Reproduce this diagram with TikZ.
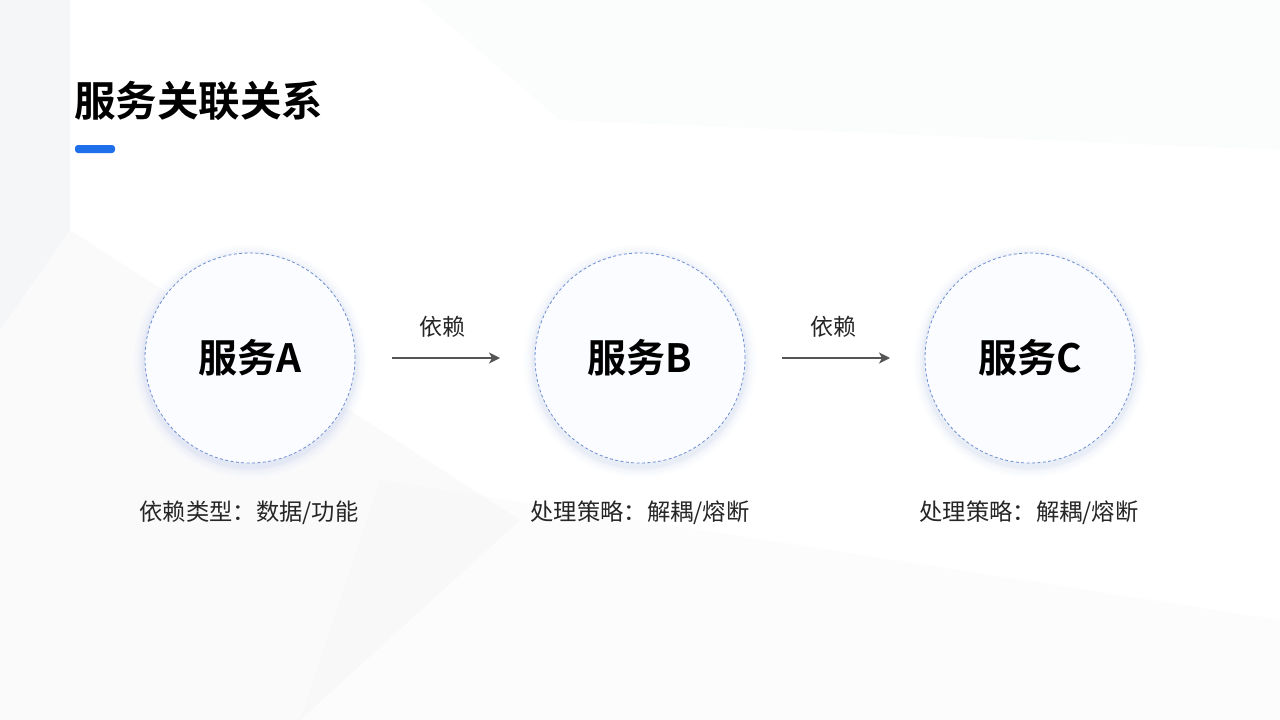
\documentclass[tikz,border=0pt]{standalone}
\usepackage{fontspec}
\newfontfamily\cjk{Noto Sans CJK SC}
\newfontfamily\cjkb{Noto Sans CJK SC Bold}
\usetikzlibrary{arrows.meta}
\definecolor{dashblue}{HTML}{6E8FD2}
\definecolor{barblue}{HTML}{1F6FEB}
\definecolor{arrgray}{HTML}{555555}
\definecolor{bggray}{HTML}{EDEFF3}
\definecolor{circfill}{HTML}{FBFCFF}
\tikzset{
  svc/.style={circle, minimum size=210pt, draw=dashblue, dashed, dash pattern=on 3pt off 2.4pt, line width=0.8pt, fill=circfill, inner sep=0pt, font=\cjkb\fontsize{39}{42}\selectfont, text=black},
  rel/.style={-{Stealth[length=11pt,width=11pt,inset=3pt]}, draw=arrgray, line width=1.4pt},
  rellabel/.style={font=\cjk\fontsize{23}{26}\selectfont, text=black!85},
  sublabel/.style={font=\cjk\fontsize{23.3}{26}\selectfont, text=black!85}
}
\begin{document}
\begin{tikzpicture}[x=1pt,y=-1pt]
\useasboundingbox (0,0) rectangle (1280,720);
\fill[white] (0,0) rectangle (1280,720);
% faint background shapes
\fill[bggray, opacity=0.5] (0,0) -- (70,0) -- (70,230) -- (0,330) -- cycle;
\fill[bggray, opacity=0.25] (70,230) -- (0,330) -- (0,720) -- (300,720) -- (520,520) -- cycle;
\fill[bggray, opacity=0.18] (160,0) -- (420,0) -- (560,120) -- (1280,150) -- (1280,0) -- cycle;
\fill[bggray, opacity=0.15] (380,480) -- (1280,620) -- (1280,720) -- (300,720) -- cycle;
% title
\node[anchor=west, font=\cjkb\fontsize{41.5}{44}\selectfont, inner sep=0pt] (title) at (74,101) {服务关联关系};
\fill[barblue, rounded corners=3pt] (75,145) rectangle (115,153);
% glows
\foreach \cx in {250,640,1030}{
  \foreach \r/\o in {116/0.025,113/0.035,110/0.045,108/0.055}{
    \fill[dashblue, opacity=\o] (\cx,361) circle (\r);
  }
}
% nodes
\node[svc] (A) at (250,358) {服务A};
\node[svc] (B) at (640,358) {服务B};
\node[svc] (C) at (1030,358) {服务C};
% connectors
\coordinate (a1) at (392,358);
\coordinate (a2) at (500,358);
\coordinate (b1) at (782,358);
\coordinate (b2) at (890,358);
\draw[rel] (a1) -- (a2);
\draw[rel] (b1) -- (b2);
\node[rellabel] (l1) at (442,327) {依赖};
\node[rellabel] (l2) at (833,327) {依赖};
% sub labels
\node[sublabel] (sa) at (249,513) {依赖类型：数据/功能};
\node[sublabel] (sb) at (640,513) {处理策略：解耦/熔断};
\node[sublabel] (sc) at (1029,513) {处理策略：解耦/熔断};
\end{tikzpicture}
\end{document}
